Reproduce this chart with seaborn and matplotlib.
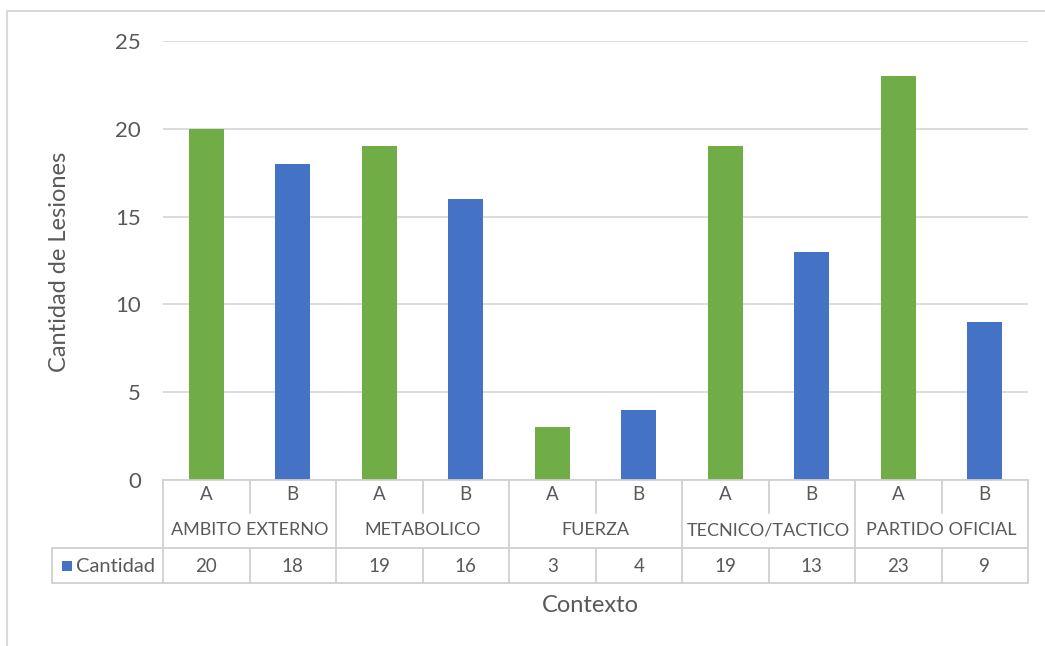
import matplotlib
matplotlib.use("Agg")
import matplotlib.pyplot as plt
import seaborn as sns
import pandas as pd
from matplotlib.transforms import blended_transform_factory
from matplotlib.patches import Rectangle
from matplotlib.lines import Line2D

categories = ["AMBITO EXTERNO", "METABOLICO", "FUERZA", "TECNICO/TACTICO", "PARTIDO OFICIAL"]
groups = ["A", "B"]
values = [20, 18, 19, 16, 3, 4, 19, 13, 23, 9]
series_name = "Cantidad"
y_label = "Cantidad de Lesiones"
x_label = "Contexto"
y_ticks = [0, 5, 10, 15, 20, 25]

GREEN = "#70AD47"
BLUE = "#4472C4"
TEXT = "#595959"
GRID = "#D9D9D9"
TLINE = "#D0D0D0"

sns.set_theme(style="white")
plt.rcParams["font.family"] = ["Lato", "DejaVu Sans"]

slots = [f"{c}|{g}" for c in categories for g in groups]
grp = [g for c in categories for g in groups]
df = pd.DataFrame({"slot": slots, "grp": grp, "val": values})

W, H = 1045, 646
fig = plt.figure(figsize=(W / 100, H / 100), dpi=100)
L, R, T, B = 163, 1028, 41, 480
ax = fig.add_axes([L / W, 1 - B / H, (R - L) / W, (B - T) / H])

sns.barplot(data=df, x="slot", y="val", hue="grp", palette={"A": GREEN, "B": BLUE},
            dodge=False, width=0.4, legend=False, ax=ax, order=slots, saturation=1,
            linewidth=0, edgecolor="none")

ax.set_ylim(0, 25)
ax.set_xlim(-0.5, len(slots) - 0.5)
ax.set_yticks(y_ticks)
ax.yaxis.grid(True, color=GRID, linewidth=1.3)
ax.set_axisbelow(True)
for s in ax.spines.values():
    s.set_visible(False)
ax.set_xticks([])
ax.set_xlabel("")
ax.set_ylabel("")
ax.tick_params(axis="y", length=0, pad=16, labelsize=16, labelcolor=TEXT)

# y label
fig.text(60 / W, 1 - 262 / H, y_label, rotation=90, ha="center", va="center",
         fontsize=17, color=TEXT)
# x label
fig.text(590 / W, 1 - 605 / H, x_label, ha="center", va="center", fontsize=17, color=TEXT)

# data table
tr = blended_transform_factory(ax.transData, ax.transAxes)
ph = B - T
def yf(px):
    return -(px - B) / ph

y_top = 0.0
y_mid = yf(548)
y_bot = yf(583)
y_ab_split = yf(513)
x0 = -0.5
x1 = len(slots) - 0.5
slot_px = (R - L) / len(slots)
x_leg = -0.5 - (L - 52) / slot_px

lkw = dict(color=TLINE, linewidth=1.3, transform=tr, clip_on=False)
ax.add_line(Line2D([x0, x1], [y_top, y_top], **lkw))
ax.add_line(Line2D([x_leg, x1], [y_mid, y_mid], **lkw))
ax.add_line(Line2D([x_leg, x1], [y_bot, y_bot], **lkw))
ax.add_line(Line2D([x_leg, x_leg], [y_mid, y_bot], **lkw))
for i in range(len(slots) + 1):
    xb = i - 0.5
    if i % 2 == 0:
        ax.add_line(Line2D([xb, xb], [y_top, y_bot], **lkw))
    else:
        ax.add_line(Line2D([xb, xb], [y_top, y_ab_split], **lkw))
        ax.add_line(Line2D([xb, xb], [y_mid, y_bot], **lkw))

fs = 13.5
for i, (g, v) in enumerate(zip(grp, values)):
    ax.text(i, yf(495), g, transform=tr, ha="center", va="center", fontsize=fs, color=TEXT)
    ax.text(i, yf(566), str(v), transform=tr, ha="center", va="center", fontsize=fs, color=TEXT)
for j, c in enumerate(categories):
    ax.text(2 * j + 0.5, yf(530), c, transform=tr, ha="center", va="center", fontsize=13, color=TEXT)

# legend key in table
key_w = 10 / slot_px
kx = x_leg + 10 / slot_px
ax.add_patch(Rectangle((kx, yf(571)), key_w, 10 / ph, transform=tr, clip_on=False,
                       facecolor=BLUE, edgecolor="none"))
ax.text(kx + key_w + 4 / slot_px, yf(566), series_name, transform=tr, ha="left", va="center",
        fontsize=14.5, color=TEXT)

# outer frame
fig.add_artist(Line2D([7 / W, 7 / W], [0, 1 - 11 / H], transform=fig.transFigure,
                      color=GRID, linewidth=1.5))
fig.add_artist(Line2D([7 / W, 1], [1 - 11 / H, 1 - 11 / H], transform=fig.transFigure,
                      color=GRID, linewidth=1.5))

fig.savefig("out.png", dpi=100)
